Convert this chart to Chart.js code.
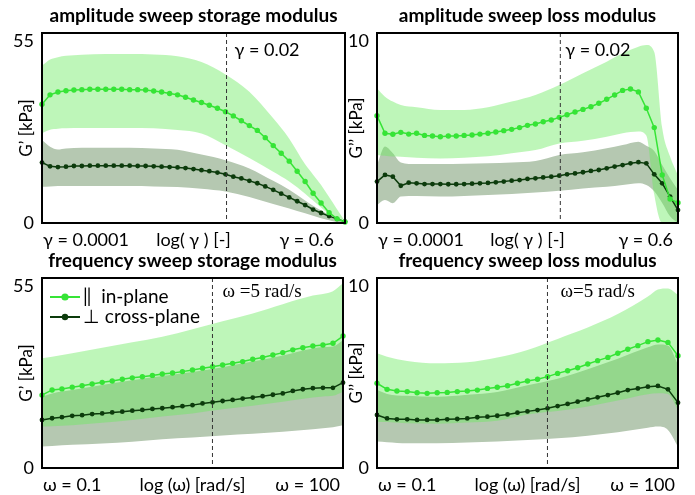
<!DOCTYPE html>
<html>
<head>
<meta charset="utf-8">
<script src="https://cdn.jsdelivr.net/npm/chart.js@4.4.1/dist/chart.umd.min.js"></script>
<style>
  html, body { margin: 0; padding: 0; background: #fff; }
  body { width: 695px; height: 495px; position: relative; overflow: hidden; }
  canvas { position: absolute; }
</style>
</head>
<body>
<canvas id="c1" width="353" height="252" style="left:0;top:0"></canvas>
<canvas id="c2" width="350" height="252" style="left:345px;top:0"></canvas>
<canvas id="c3" width="351" height="250" style="left:0;top:245px"></canvas>
<canvas id="c4" width="350" height="250" style="left:345px;top:245px"></canvas>
<script>
// x grids (strain amplitude / angular frequency)
const gamma = [0.0001, 0.000126, 0.000158, 0.000199, 0.00025, 0.000314, 0.000395, 0.000497, 0.000624, 0.000785,
  0.000987, 0.00124, 0.00156, 0.00196, 0.00247, 0.0031, 0.0039, 0.0049, 0.00616, 0.00774,
  0.00974, 0.0122, 0.0154, 0.0194, 0.0243, 0.0306, 0.0385, 0.0484, 0.0608, 0.0764,
  0.0961, 0.121, 0.152, 0.191, 0.24, 0.302, 0.38, 0.477, 0.6];
const gammaBand = [0.0001, 0.000126, 0.000158, 0.000199, 0.000314, 0.000624, 0.00124, 0.00247, 0.0049, 0.00974,
  0.0194, 0.0385, 0.0764, 0.121, 0.191, 0.24, 0.302, 0.38, 0.477, 0.6];
const omega = [0.1, 0.126, 0.158, 0.2, 0.251, 0.316, 0.398, 0.501, 0.631, 0.794,
  1, 1.26, 1.58, 2, 2.51, 3.16, 3.98, 5.01, 6.31, 7.94,
  10, 12.6, 15.8, 20, 25.1, 31.6, 39.8, 50.1, 63.1, 79.4, 100];
const omegaBand = [0.1, 0.126, 0.2, 0.398, 0.794, 1.58, 3.16, 6.31, 12.6, 25.1, 50.1, 63.1, 79.4, 100];

const seriesNames = ['\u2016  in-plane', '\u22A5 cross-plane'];

// amplitude sweep, storage modulus G' [kPa]
const ampStorageIn = [34.4, 37.1, 37.9, 38.3, 38.5, 38.6, 38.7, 38.7, 38.7, 38.7, 38.7, 38.6, 38.6, 38.5, 38.2, 37.9, 37.5, 37.1, 36.4, 35.6,
  34.9, 34.1, 33.2, 32.2, 31.0, 29.6, 28.2, 26.8, 24.7, 22.4, 20.2, 17.9, 15.0, 12.0, 8.6, 5.8, 3.0, 1.2, 0.3];
const ampStorageCross = [17.5, 16.4, 16.2, 16.3, 16.5, 16.5, 16.6, 16.6, 16.6, 16.6, 16.6, 16.6, 16.5, 16.5, 16.4, 16.3, 16.2, 16.1, 15.9, 15.6,
  15.3, 15.0, 14.6, 14.1, 13.4, 12.9, 12.2, 11.5, 10.6, 9.6, 8.5, 7.4, 6.3, 5.2, 3.9, 2.9, 2.0, 1.2, 0.4];
const ampStorageInHi = [45.5, 47.3, 48.0, 48.4, 48.7, 48.9, 48.9, 48.8, 48.3, 46.6, 43.0, 38.0, 30.3, 24.4, 17.0, 14.0, 11.0, 7.5, 4.0, 0.5];
const ampStorageInLo = [26.0, 27.0, 27.3, 27.4, 27.5, 27.5, 27.5, 27.4, 26.9, 25.9, 22.5, 18.8, 14.8, 12.0, 8.5, 6.5, 4.5, 2.5, 1.0, 0.1];
const ampStorageCrossHi = [24.0, 22.1, 21.3, 21.6, 21.8, 21.8, 21.8, 21.6, 21.2, 19.8, 18.2, 15.8, 12.2, 9.6, 6.5, 5.0, 3.6, 2.3, 1.0, 0.2];
const ampStorageCrossLo = [10.5, 10.6, 10.7, 10.7, 10.7, 10.7, 10.7, 10.6, 10.4, 9.9, 9.1, 7.5, 5.5, 4.2, 2.8, 2.1, 1.4, 0.8, 0.3, 0.0];

// amplitude sweep, loss modulus G'' [kPa]
const ampLossIn = [5.65, 4.72, 4.67, 4.77, 4.68, 4.72, 4.61, 4.58, 4.54, 4.58, 4.58, 4.61, 4.63, 4.68, 4.72, 4.79, 4.86, 4.93, 5.02, 5.14,
  5.21, 5.33, 5.42, 5.56, 5.70, 5.84, 5.98, 6.12, 6.30, 6.51, 6.74, 6.98, 7.05, 6.90, 6.04, 5.02, 2.53, 1.26, 1.07];
const ampLossCross = [2.18, 2.53, 2.44, 1.96, 2.12, 2.09, 2.05, 2.05, 2.05, 2.04, 2.04, 2.05, 2.07, 2.09, 2.11, 2.14, 2.18, 2.23, 2.26, 2.32,
  2.35, 2.40, 2.44, 2.49, 2.56, 2.61, 2.67, 2.74, 2.79, 2.88, 2.97, 3.05, 3.14, 3.20, 3.14, 2.56, 2.09, 1.39, 0.68];
const ampLossInHi = [7.09, 6.65, 6.39, 6.21, 6.09, 5.95, 5.95, 6.09, 6.39, 6.74, 7.26, 7.88, 8.49, 8.93, 9.28, 9.37, 9.0, 5.0, 3.5, 2.5];
const ampLossInLo = [3.58, 3.54, 3.50, 3.49, 3.44, 3.40, 3.44, 3.51, 3.67, 3.84, 4.19, 4.33, 4.54, 4.72, 4.81, 4.6, 1.5, 0, 0, 0];
const ampLossCrossHi = [3.05, 4.02, 3.67, 3.19, 3.10, 3.10, 3.12, 3.14, 3.19, 3.26, 3.58, 3.72, 3.93, 4.10, 4.28, 4.07, 3.79, 3.05, 2.35, 1.74];
const ampLossCrossLo = [0.95, 1.21, 1.04, 1.39, 1.42, 1.39, 1.42, 1.47, 1.53, 1.60, 1.70, 1.82, 1.91, 2.0, 2.09, 2.0, 1.67, 1.05, 0.35, 0];

// frequency sweep, storage modulus G' [kPa]
const freqStorageIn = [21.1, 22.6, 22.9, 23.4, 23.8, 24.3, 24.8, 25.2, 25.7, 26.1, 26.4, 26.8, 27.2, 27.5, 27.9, 28.4,
  28.9, 29.3, 29.8, 30.3, 30.8, 31.5, 32.0, 32.7, 33.4, 34.2, 34.8, 35.3, 35.6, 36.1, 38.2];
const freqStorageCross = [13.9, 14.4, 14.7, 15.1, 15.3, 15.6, 15.8, 16.1, 16.3, 16.6, 16.8, 17.1, 17.3, 17.6, 17.9, 18.2,
  18.7, 19.0, 19.4, 19.7, 20.1, 20.4, 20.8, 21.2, 21.6, 22.3, 22.8, 23.1, 23.2, 23.2, 24.7];
const freqStorageInHi = [31.8, 32.2, 33.2, 34.8, 36.4, 38.0, 40.2, 42.5, 44.7, 47.4, 49.9, 50.4, 51.2, 53.5];
const freqStorageInLo = [12.0, 12.1, 12.4, 13.1, 13.9, 14.9, 15.8, 17.0, 18.0, 19.2, 20.4, 20.7, 20.9, 22.1];
const freqStorageCrossHi = [20.6, 21.6, 22.6, 24.0, 25.4, 26.6, 27.8, 29.2, 30.8, 32.6, 34.6, 35.0, 35.2, 37.0];
const freqStorageCrossLo = [6.2, 6.4, 6.7, 7.1, 7.6, 8.3, 8.8, 9.4, 9.9, 10.5, 11.2, 11.5, 11.8, 12.4];

// frequency sweep, loss modulus G'' [kPa]
const freqLossIn = [4.46, 4.14, 4.05, 4.02, 3.96, 3.93, 3.96, 3.98, 4.02, 4.05, 4.10, 4.19, 4.25, 4.33, 4.46, 4.58,
  4.67, 4.81, 4.98, 5.12, 5.28, 5.47, 5.65, 5.82, 6.04, 6.25, 6.44, 6.65, 6.74, 6.61, 5.91];
const freqLossCross = [2.79, 2.61, 2.56, 2.56, 2.53, 2.53, 2.53, 2.56, 2.58, 2.61, 2.67, 2.70, 2.75, 2.82, 2.91, 2.98,
  3.05, 3.14, 3.26, 3.37, 3.49, 3.61, 3.72, 3.84, 3.96, 4.10, 4.19, 4.28, 4.32, 4.14, 3.44];
const freqLossInHi = [6.04, 5.86, 5.63, 5.51, 5.56, 5.81, 6.21, 6.79, 7.39, 8.10, 9.02, 9.40, 9.45, 9.11];
const freqLossInLo = [2.44, 2.42, 2.35, 2.33, 2.39, 2.49, 2.82, 3.00, 3.24, 3.55, 3.88, 3.93, 3.90, 3.05];
const freqLossCrossHi = [4.10, 3.90, 3.80, 3.75, 3.85, 4.00, 4.35, 4.70, 5.20, 5.75, 6.35, 6.50, 6.45, 5.45];
const freqLossCrossLo = [1.39, 1.36, 1.30, 1.30, 1.34, 1.39, 1.47, 1.56, 1.70, 1.88, 2.12, 2.18, 2.00, 1.12];

const ampTicks = ['\u03B3 = 0.0001', 'log( \u03B3 ) [-]', '\u03B3 = 0.6'];
const freqTicks = ['\u03C9 = 0.1', 'log (\u03C9) [rad/s]', '\u03C9 = 100'];

const LIGHT = '#36e436';
const DARK = '#0c3b0c';
const LIGHT_BAND = 'rgba(104,234,92,0.43)';
const GREY_BAND = '#b5c8b1';
const FONT = 'Lato, "Open Sans", sans-serif';

Chart.defaults.font.family = FONT;
Chart.defaults.color = '#000';

function pts(xs, ys) {
  return xs.map((x, i) => ({ x: x, y: ys[i] }));
}

// titles, frame, x labels, dashed marker line, its label and the legend
const decor = {
  id: 'decor',
  afterDatasetsDraw(chart, args, o) {
    const { ctx, chartArea: a } = chart;
    const px = chart.scales.x.getPixelForValue(o.markX);
    ctx.save();
    ctx.strokeStyle = '#333';
    ctx.lineWidth = 1;
    ctx.setLineDash([4, 3]);
    ctx.beginPath();
    ctx.moveTo(px, a.top);
    ctx.lineTo(px, a.bottom);
    ctx.stroke();
    ctx.restore();
  },
  afterDraw(chart, args, o) {
    const { ctx, chartArea: a } = chart;
    const xs = chart.scales.x;
    const px = xs.getPixelForValue(o.markX);
    ctx.save();
    ctx.strokeStyle = '#000';
    ctx.lineWidth = 2;
    ctx.strokeRect(a.left, a.top, a.right - a.left, a.bottom - a.top);

    ctx.fillStyle = '#000';
    ctx.font = 'bold 19px ' + FONT;
    ctx.textAlign = 'center';
    ctx.textBaseline = 'middle';
    ctx.fillText(o.title, (a.left + a.right) / 2, 16);

    // x labels: low end, axis name, high end
    const lo = xs.min, hi = xs.max;
    ctx.font = '18px ' + FONT;
    const ly = a.bottom + 17;
    ctx.textAlign = 'left';
    ctx.fillText(o.xLabels[0], xs.getPixelForValue(lo) + 1, ly);
    ctx.textAlign = 'center';
    ctx.fillText(o.xLabels[1], xs.getPixelForValue(Math.sqrt(lo * hi)), ly);
    ctx.textAlign = 'right';
    ctx.fillText(o.xLabels[2], xs.getPixelForValue(hi) - o.rightInset, ly);

    ctx.font = o.markFont;
    ctx.textAlign = 'left';
    ctx.fillText(o.markText, px + o.markDx, a.top + o.markDy);

    if (o.legend) {
      const rows = [[LIGHT, 3.6, seriesNames[0]], [DARK, 3.2, seriesNames[1]]];
      rows.forEach((r, i) => {
        const y = a.top + 19 + i * 20;
        ctx.strokeStyle = r[0];
        ctx.fillStyle = r[0];
        ctx.lineWidth = 2;
        ctx.beginPath();
        ctx.moveTo(a.left + 8, y);
        ctx.lineTo(a.left + 38, y);
        ctx.stroke();
        ctx.beginPath();
        ctx.arc(a.left + 23, y, r[1], 0, Math.PI * 2);
        ctx.fill();
        ctx.fillStyle = '#000';
        ctx.font = '19px ' + FONT;
        ctx.fillText(r[2], a.left + 41, y);
      });
    }
    ctx.restore();
  }
};

function makePanel(id, p) {
  new Chart(document.getElementById(id), {
    type: 'line',
    data: {
      datasets: [
        { data: pts(p.bandX, p.crossHi), fill: '+1', backgroundColor: GREY_BAND, borderWidth: 0, pointRadius: 0, order: 6, cubicInterpolationMode: 'monotone' },
        { data: pts(p.bandX, p.crossLo), fill: false, borderWidth: 0, pointRadius: 0, order: 7, cubicInterpolationMode: 'monotone' },
        { data: pts(p.bandX, p.inHi), fill: '+1', backgroundColor: LIGHT_BAND, borderWidth: 0, pointRadius: 0, order: 4, cubicInterpolationMode: 'monotone' },
        { data: pts(p.bandX, p.inLo), fill: false, borderWidth: 0, pointRadius: 0, order: 5, cubicInterpolationMode: 'monotone' },
        { label: seriesNames[1], data: pts(p.x, p.cross), borderColor: DARK, backgroundColor: DARK, borderWidth: 1.5,
          pointRadius: 2.4, pointBorderWidth: 0, fill: false, order: 1, clip: 6 },
        { label: seriesNames[0], data: pts(p.x, p.inLine), borderColor: LIGHT, backgroundColor: LIGHT, borderWidth: 1.5,
          pointRadius: 2.7, pointBorderWidth: 0, fill: false, order: 0, clip: 6 }
      ]
    },
    options: {
      responsive: false,
      animation: false,
      events: [],
      layout: { padding: p.pad },
      plugins: {
        legend: { display: false },
        tooltip: { enabled: false },
        decor: p.decor
      },
      scales: {
        x: {
          type: 'logarithmic',
          min: p.xMin,
          max: p.xMax,
          grid: { display: false, drawTicks: false },
          ticks: { display: false },
          afterFit: (s) => { s.height = p.xHeight; }
        },
        y: {
          min: 0,
          max: p.yMax,
          grid: { display: false, drawTicks: false },
          afterBuildTicks: (s) => { s.ticks = [{ value: 0 }, { value: p.yMax }]; },
          afterFit: (s) => { s.width = p.yWidth; },
          ticks: {
            padding: 8,
            font: { size: 18, lineHeight: 0.9 },
            callback: (v) => v === p.yMax ? ['', String(v)] : String(v)
          },
          title: { display: true, text: p.yTitle, font: { size: 17 }, padding: { top: p.yTitlePad, bottom: 0 } }
        }
      }
    },
    plugins: [decor]
  });
}

makePanel('c1', {
  x: gamma, bandX: gammaBand, inLine: ampStorageIn, cross: ampStorageCross,
  inHi: ampStorageInHi, inLo: ampStorageInLo, crossHi: ampStorageCrossHi, crossLo: ampStorageCrossLo,
  xMin: 0.0001, xMax: 0.6, yMax: 55,
  yTitle: 'G\u2019 [kPa]', yTitlePad: 3, yWidth: 29, xHeight: 29,
  pad: { top: 33, left: 13, right: 8, bottom: 0 },
  decor: { title: 'amplitude sweep storage modulus', xLabels: ampTicks, rightInset: 11,
    markX: 0.02, markText: '\u03B3 = 0.02', markFont: '18px ' + FONT, markDx: 8, markDy: 17 }
});
makePanel('c2', {
  x: gamma, bandX: gammaBand, inLine: ampLossIn, cross: ampLossCross,
  inHi: ampLossInHi, inLo: ampLossInLo, crossHi: ampLossCrossHi, crossLo: ampLossCrossLo,
  xMin: 0.0001, xMax: 0.6, yMax: 10,
  yTitle: 'G\u2019\u2019 [kPa]', yTitlePad: 0, yWidth: 31, xHeight: 29,
  pad: { top: 33, left: 1, right: 17, bottom: 0 },
  decor: { title: 'amplitude sweep loss modulus', xLabels: ampTicks, rightInset: 5,
    markX: 0.02, markText: '\u03B3 = 0.02', markFont: '18px ' + FONT, markDx: 5, markDy: 17 }
});
makePanel('c3', {
  x: omega, bandX: omegaBand, inLine: freqStorageIn, cross: freqStorageCross,
  inHi: freqStorageInHi, inLo: freqStorageInLo, crossHi: freqStorageCrossHi, crossLo: freqStorageCrossLo,
  xMin: 0.1, xMax: 100, yMax: 55,
  yTitle: 'G\u2019 [kPa]', yTitlePad: 3, yWidth: 29, xHeight: 27,
  pad: { top: 33, left: 13, right: 8, bottom: 0 },
  decor: { title: 'frequency sweep storage modulus', xLabels: freqTicks, rightInset: 3,
    markX: 5, markText: '\u03C9 =5 rad/s', markFont: '19px "Liberation Serif", serif', markDx: 10, markDy: 14, legend: true }
});
makePanel('c4', {
  x: omega, bandX: omegaBand, inLine: freqLossIn, cross: freqLossCross,
  inHi: freqLossInHi, inLo: freqLossInLo, crossHi: freqLossCrossHi, crossLo: freqLossCrossLo,
  xMin: 0.1, xMax: 100, yMax: 10,
  yTitle: 'G\u2019\u2019 [kPa]', yTitlePad: 0, yWidth: 31, xHeight: 27,
  pad: { top: 33, left: 1, right: 17, bottom: 0 },
  decor: { title: 'frequency sweep loss modulus', xLabels: freqTicks, rightInset: 3,
    markX: 5, markText: '\u03C9=5 rad/s', markFont: '19px "Liberation Serif", serif', markDx: 13, markDy: 14 }
});
</script>
</body>
</html>
